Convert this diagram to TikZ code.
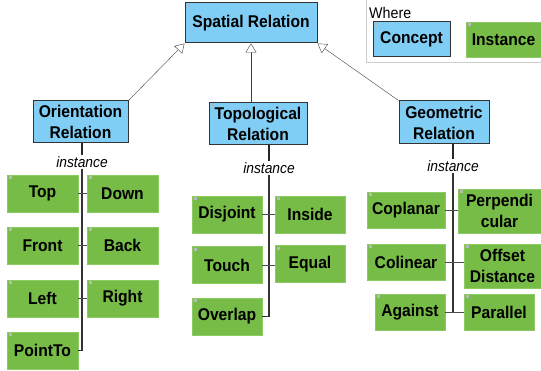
\documentclass[tikz,border=0pt]{standalone}
\usepackage{fontspec}
\setmainfont{Liberation Sans}[FakeStretch=0.92]
\usetikzlibrary{arrows.meta}
\definecolor{conceptblue}{RGB}{128,206,245}
\definecolor{instgreen}{RGB}{118,188,70}
\definecolor{instborder}{RGB}{140,202,100}
\tikzset{
    base-box/.style = {rectangle, inner sep=2pt, align=center, font=\fontsize{17}{21}\selectfont\bfseries,
        path picture={\fill[gray!55] ([shift={(1.5pt,-1.5pt)}]path picture bounding box.north west) rectangle ++(3pt,-3pt);}},
    concept-box/.style = {base-box, draw=black!80, fill=conceptblue, line width=1pt},
    instance-box/.style = {base-box, draw=instborder, fill=instgreen, thin, minimum width=71pt, minimum height=37pt},
    instance-label/.style = {font=\fontsize{15}{17}\selectfont\itshape, inner sep=1pt},
    generalize/.style = {draw=black!75, thin, -{Triangle[open, length=9pt, width=11pt, fill=white]}},
    stub/.style = {draw=black!85, line width=2.5pt},
    spine/.style = {draw=black!80, line width=1.5pt},
    tick/.style = {draw=black!70, line width=0.8pt},
}
\begin{document}
\begin{tikzpicture}[x=1pt, y=-1pt]
\useasboundingbox (0,0) rectangle (541,371);

\draw[gray!40, thin] (366,0) |- (541,62);
\node[anchor=west, inner sep=0pt, font=\fontsize{15.5}{17}\selectfont] (where) at (369,13) {Where};
\node[concept-box, minimum width=77pt, minimum height=35pt] (concept) at (411.5,39.5) {Concept};
\node[instance-box, minimum width=75pt, minimum height=35pt] (instance) at (503.5,39.5) {Instance};

\node[concept-box, minimum width=132pt, minimum height=40pt] (spatial) at (251,23) {Spatial Relation};
\node[concept-box, minimum width=95pt, minimum height=42pt] (orient) at (80.5,122) {Orientation\\Relation};
\node[concept-box, minimum width=98pt, minimum height=42pt] (topo) at (258,124) {Topological\\Relation};
\node[concept-box, minimum width=90pt, minimum height=43pt] (geo) at (444,122.5) {Geometric\\Relation};

\draw[generalize] (orient.north east) -- (spatial.south west);
\draw[generalize] (topo.north -| spatial.south) -- (spatial.south);
\draw[generalize] (geo.north west) -- (spatial.south east);

\node[instance-label] (oinst) at (82,162) {instance};
\node[instance-label] (tinst) at (269,168) {instance};
\node[instance-label] (ginst) at (453,166) {instance};

\node[instance-box] (top) at (42.5,193.5) {Top};
\node[instance-box] (down) at (122.5,193.5) {Down};
\node[instance-box] (front) at (42.5,245.5) {Front};
\node[instance-box] (back) at (122.5,245.5) {Back};
\node[instance-box] (left) at (42.5,298.5) {Left};
\node[instance-box] (right) at (122.5,298.5) {Right};
\node[instance-box] (pointto) at (42.5,350.5) {PointTo};

\node[instance-box, minimum width=70pt] (disjoint) at (227,214.5) {Disjoint};
\node[instance-box, minimum width=70pt] (inside) at (310,214.5) {Inside};
\node[instance-box, minimum width=70pt] (touch) at (227,265) {Touch};
\node[instance-box, minimum width=70pt] (equal) at (310,264) {Equal};
\node[instance-box, minimum width=70pt] (overlap) at (227,316.5) {Overlap};

\node[instance-box, minimum width=78pt, minimum height=36pt] (coplanar) at (406,210) {Coplanar};
\node[instance-box, minimum width=83pt, minimum height=44pt] (perp) at (499.5,211) {Perpendi\\cular};
\node[instance-box, minimum width=78pt, minimum height=36pt] (colinear) at (406,262) {Colinear};
\node[instance-box, minimum width=77pt, minimum height=44pt] (offset) at (502.5,266) {Offset\\Distance};
\node[instance-box, minimum width=70pt, minimum height=36pt] (against) at (410,312) {Against};
\node[instance-box, minimum width=70pt, minimum height=36pt] (parallel) at (499,312) {Parallel};

\draw[stub] (orient.south -| oinst) -- (oinst);
\draw[stub] (topo.south -| tinst) -- (tinst);
\draw[stub] (geo.south -| ginst) -- (ginst);

\draw[spine] (oinst) |- (pointto);
\draw[spine] (tinst) |- (overlap);
\draw[spine] (ginst) -- (ginst |- against);

\foreach \a/\b in {top/down, front/back, left/right, disjoint/inside, touch/equal,
                   coplanar/perp, colinear/offset, against/parallel}
    \draw[tick] (\a.east) -- (\a.east -| \b.west);
\end{tikzpicture}
\end{document}
